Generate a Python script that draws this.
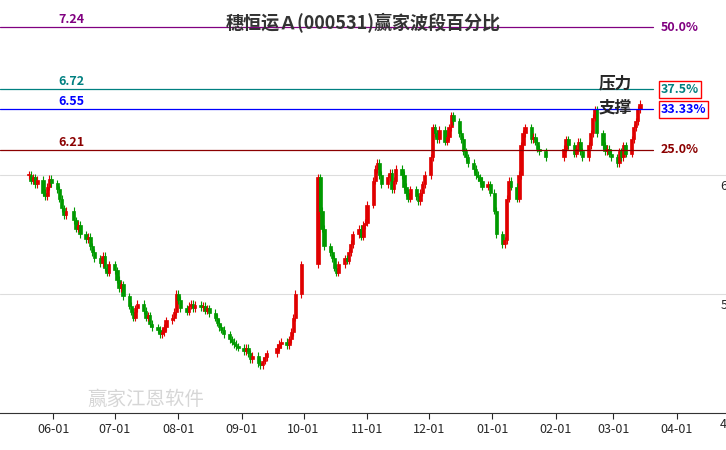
import numpy as np, pandas as pd, matplotlib
matplotlib.use("Agg")
import matplotlib.pyplot as plt, matplotlib.dates as mdates, seaborn as sns

sns.set_style("white")
plt.rcParams['font.family'] = ['Noto Sans CJK SC', 'DejaVu Sans']

title = "穗恒运Ａ(000531)赢家波段百分比"
levels = [7.24, 6.72, 6.55, 6.21]
level_pcts = ["50.0%", "37.5%", "33.33%", "25.0%"]
level_colors = ["#800080", "#008080", "#0000ff", "#8b0000"]
months = ["2024-05", "2024-06", "2024-07", "2024-08", "2024-09", "2024-10",
          "2024-11", "2024-12", "2025-01", "2025-02", "2025-03"]
closes = [
 [6.00,5.95,5.98,5.92,5.96,5.85,5.82,5.90,5.97,5.93],
 [5.88,5.80,5.72,5.66,5.70,5.62,5.55,5.58,5.50,5.46,5.48,5.40,5.35,5.30,5.26,5.32,5.22,5.18,5.25],
 [5.20,5.12,5.05,5.08,4.98,4.90,4.85,4.80,4.88,4.92,4.86,4.80,4.82,4.75,4.72,4.70,4.66,4.68,4.72,4.78,4.80,4.85,5.00],
 [4.95,4.88,4.85,4.90,4.92,4.88,4.91,4.89,4.90,4.86,4.88,4.84,4.80,4.76,4.72,4.70,4.66,4.62,4.60,4.58,4.56,4.55],
 [4.52,4.55,4.50,4.45,4.48,4.42,4.40,4.44,4.47,4.50,4.55,4.58,4.60,4.57,4.62,4.68,4.80,5.00,5.25],
 [5.98,5.70,5.55,5.40,5.35,5.30,5.22,5.18,5.25,5.30,5.28,5.35,5.42,5.50,5.55,5.48,5.58,5.60],
 [5.75,5.95,6.05,6.10,6.00,5.92,5.98,6.02,5.88,5.95,6.05,6.00,5.90,5.85,5.80,5.88,5.82,5.78,5.85,5.92,6.00],
 [6.15,6.40,6.35,6.30,6.38,6.28,6.32,6.40,6.50,6.45,6.35,6.30,6.20,6.15,6.10,6.05,6.00,5.98,5.95,5.90,5.92,5.85],
 [5.70,5.50,5.42,5.45,5.80,5.95,5.90,5.80,6.00,6.25,6.35,6.40,6.30,6.32,6.28,6.22,6.20,6.15,6.18],
 [6.22,6.30,6.25,6.18,6.22,6.28,6.20,6.15,6.25,6.35,6.48,6.55,6.35,6.25,6.20,6.22,6.18,6.15],
 [6.10,6.20,6.15,6.25,6.18,6.30,6.40,6.45,6.55,6.60],
]
holidays = pd.to_datetime(["2024-06-10","2024-09-16","2024-09-17","2024-10-01","2024-10-02",
    "2024-10-03","2024-10-04","2024-10-07","2025-01-01","2025-01-28","2025-01-29",
    "2025-01-30","2025-01-31","2025-02-03","2025-02-04"])
days = pd.bdate_range("2024-05-20", "2025-03-31")
days = days[~days.isin(holidays)]
dates, cl = [], []
for m, vals in zip(months, closes):
    md = days[days.strftime("%Y-%m") == m]
    n = min(len(md), len(vals))
    dates += list(md[:n]); cl += vals[:n]
cl = np.array(cl)
op = np.r_[cl[0], cl[:-1]]
df = pd.DataFrame({"date": dates, "open": op, "close": cl})

fig = plt.figure(figsize=(7.26, 4.5), dpi=100)
ax = fig.add_axes([0, 37/450, 1, 413/450])
x = mdates.date2num(df["date"])
up = (df["close"] >= df["open"]).to_numpy()
cols = np.where(up, "#e00000", "#009900")
hi = np.maximum(df["open"], df["close"]) + 0.03
lo = np.minimum(df["open"], df["close"]) - 0.03
ax.vlines(x, lo, hi, colors=cols, lw=0.8)
body = np.abs(df["close"] - df["open"]).clip(lower=0.01)
ax.bar(x, body, bottom=np.minimum(df["open"], df["close"]), width=1.6, color=cols,
       edgecolor=cols, linewidth=0.5)

ax.set_xlim(mdates.date2num(pd.Timestamp("2024-05-06")), mdates.date2num(pd.Timestamp("2025-04-25")))
ax.set_ylim(4.0, 7.47)
for g in [4, 5, 6]:
    ax.axhline(g, color="#dddddd", lw=0.8, zorder=0)
    ax.text(0.992, g - 0.04, str(g), transform=ax.get_yaxis_transform(), ha="left", va="top", fontsize=9)
ax.set_yticks([])
for lv, pc, c in zip(levels, level_pcts, level_colors):
    ax.axhline(lv, xmax=0.9, color=c, lw=0.9)
    ax.text(0.117, lv + 0.01, f"{lv:.2f}", transform=ax.get_yaxis_transform(), color=c,
            ha="right", va="bottom", fontsize=9, fontweight="bold")
    bb = dict(fc="none", ec="red", lw=1, pad=1.5) if pc in ("37.5%", "33.33%") else None
    ax.text(0.91, lv, pc, transform=ax.get_yaxis_transform(), color=c, ha="left",
            va="center", fontsize=9, fontweight="bold", bbox=bb)
ax.text(0.825, 6.77, "压力", transform=ax.get_yaxis_transform(), fontsize=12, fontweight="bold", va="center")
ax.text(0.825, 6.57, "支撑", transform=ax.get_yaxis_transform(), fontsize=12, fontweight="bold", va="center")
ax.set_title(title, y=0.91, fontsize=13, fontweight="bold", color="#333333")
ax.text(0.12, 4.07, "赢家江恩软件", transform=ax.get_yaxis_transform(), fontsize=14, color="#cccccc", alpha=0.8)

ticks = pd.date_range("2024-06-01", "2025-04-01", freq="MS")
ax.set_xticks(mdates.date2num(ticks))
ax.set_xticklabels(ticks.strftime("%m-%d"), fontsize=9)
ax.tick_params(axis="x", length=4, direction="out", bottom=True)
for s in ["top", "right", "left"]:
    ax.spines[s].set_visible(False)
ax.spines["bottom"].set_color("#333333")
fig.savefig("out.png", dpi=100)
